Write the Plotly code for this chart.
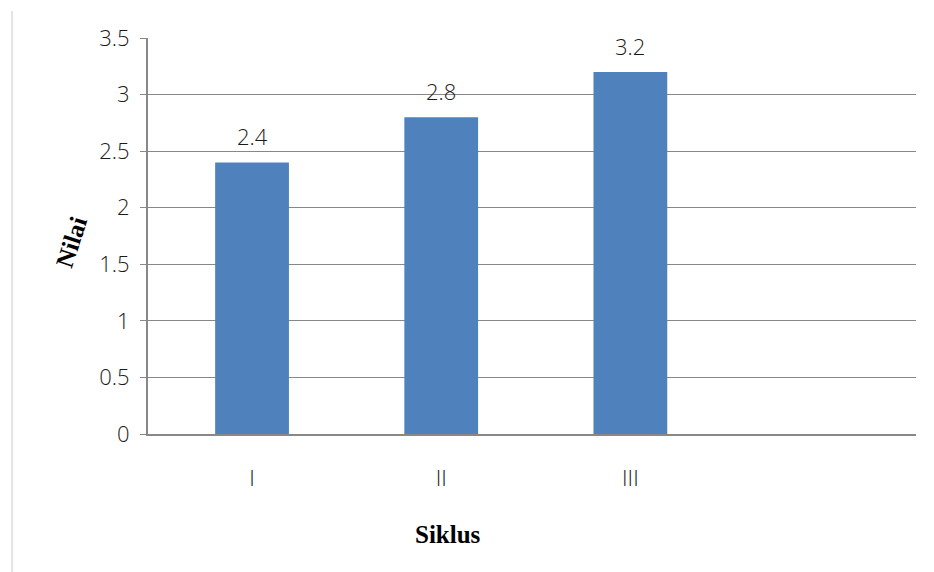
import plotly.graph_objects as go

# Chart data
siklus = ["I", "II", "III"]
nilai = [2.4, 2.8, 3.2]
y_ticks = [0, 0.5, 1, 1.5, 2, 2.5, 3, 3.5]
y_tick_text = ["0", "0.5", "1", "1.5", "2", "2.5", "3", "3.5"]

BAR_COLOR = "#4F81BD"
GRID_COLOR = "#888888"
TICK_FONT = dict(family="Open Sans", size=22, color="#1A1A1A", weight=300)

fig = go.Figure()
fig.add_trace(go.Bar(
    x=siklus,
    y=nilai,
    width=0.39,
    marker=dict(color=BAR_COLOR, line=dict(width=0)),
    hoverinfo="skip",
))

# value labels above each bar
for s, v in zip(siklus, nilai):
    fig.add_annotation(
        x=s, y=v, text=f"{v}", showarrow=False,
        yanchor="bottom", yshift=9, font=TICK_FONT,
    )

# rotated y-axis title
fig.add_annotation(
    xref="paper", yref="paper", x=-0.099, y=0.485,
    xanchor="center", yanchor="middle",
    text="<b>Nilai</b>", showarrow=False, textangle=-72,
    font=dict(family="Liberation Serif", size=25, color="#000000"),
)

# x-axis title
fig.add_annotation(
    xref="paper", yref="paper", x=0.39, y=-0.255,
    xanchor="center", yanchor="middle",
    text="<b>Siklus</b>", showarrow=False,
    font=dict(family="Liberation Serif", size=25, color="#000000"),
)

# thin frame line at the left edge of the page
fig.add_shape(
    type="line", xref="paper", yref="paper",
    x0=-0.177, x1=-0.177, y0=-0.35, y1=1.068,
    line=dict(color="#DCDCDC", width=1.5),
)

fig.update_layout(
    width=934, height=572,
    margin=dict(l=148, r=18, t=38, b=138),
    plot_bgcolor="white",
    paper_bgcolor="white",
    showlegend=False,
    xaxis=dict(
        type="category",
        range=[-0.55, 3.51],
        showgrid=False,
        showline=True,
        linecolor=GRID_COLOR,
        linewidth=2,
        ticks="",
        tickfont=TICK_FONT,
        ticklabelstandoff=24,
    ),
    yaxis=dict(
        range=[0, 3.5],
        tickvals=y_ticks,
        ticktext=y_tick_text,
        showgrid=True,
        gridcolor=GRID_COLOR,
        gridwidth=1.3,
        zeroline=False,
        showline=True,
        linecolor=GRID_COLOR,
        linewidth=2,
        ticks="outside",
        ticklen=6,
        tickcolor=GRID_COLOR,
        tickwidth=1.3,
        tickfont=TICK_FONT,
        ticklabelstandoff=6,
    ),
)

fig.write_html("out.html")
